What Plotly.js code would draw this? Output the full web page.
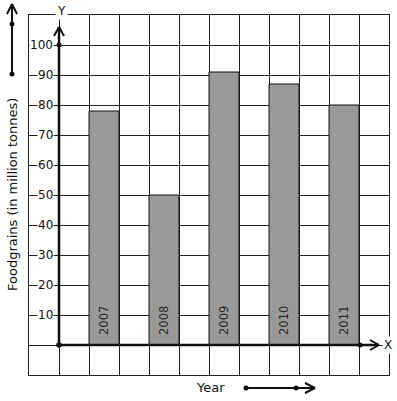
<!DOCTYPE html>
<html>
<head>
<meta charset="utf-8">
<script src="https://cdn.plot.ly/plotly-3.0.1.min.js"></script>
<style>html,body{margin:0;padding:0;background:#fff;}#chart{width:397px;height:401px;}</style>
</head>
<body>
<div id="chart"></div>
<script>
// Data
var years = ['2007', '2008', '2009', '2010', '2011'];
var foodgrains = [78, 50, 91, 87, 80];
var yTickValues = [10, 20, 30, 40, 50, 60, 70, 80, 90, 100];
var yTickLabels = ['10', '20', '30', '40', '50', '60', '70', '80', '90', '100'];

var FONT = 'DejaVu Sans, Verdana, sans-serif';
var W = 397, H = 401;
var L = 29, T = 15, PW = 360, PH = 360;
function px(x) { return (x - L) / PW; }
function py(y) { return (T + PH - y) / PH; }

// bar positions on a unit grid (one column gap between bars)
var barX = years.map(function (_, i) { return 1.5 + 2 * i; });

var trace = {
  type: 'bar',
  x: barX,
  y: foodgrains,
  width: 1,
  marker: { color: '#999999', line: { color: '#111111', width: 1 } },
  hoverinfo: 'skip'
};

var shapes = [];
var ink = '#111111';
function line(x0, y0, x1, y1, w) {
  shapes.push({ type: 'line', xref: 'paper', yref: 'paper', x0: px(x0), y0: py(y0), x1: px(x1), y1: py(y1), line: { color: ink, width: w } });
}
function dot(x, y, r) {
  shapes.push({ type: 'circle', xref: 'paper', yref: 'paper', x0: px(x - r), x1: px(x + r), y0: py(y + r), y1: py(y - r), fillcolor: ink, line: { color: ink, width: 0 } });
}
// y axis with arrow
line(59, 345, 59, 27, 2.5);
line(59, 27, 54, 36, 2); line(59, 27, 64, 36, 2);
dot(59, 45, 2.5); dot(59, 345, 2.8);
// x axis with arrow
line(59, 345, 379, 345, 2.5);
line(379, 345, 370, 340, 2); line(379, 345, 370, 350, 2);
dot(360, 345, 2.5);
// left decorative arrow
line(12, 74, 12, 4, 2);
line(12, 4, 7, 14, 2); line(12, 4, 17, 14, 2);
dot(12, 24, 2.5); dot(12, 74, 2.5);
// bottom decorative arrow
line(246, 388, 315, 388, 2);
line(315, 388, 305, 383, 2); line(315, 388, 305, 393, 2);
dot(246, 388, 2.5); dot(296, 388, 2.5);

var annotations = [];
yTickValues.forEach(function (v, i) {
  annotations.push({ xref: 'paper', yref: 'y', x: px(54), y: v, text: yTickLabels[i], showarrow: false,
    xanchor: 'right', yanchor: 'middle', bgcolor: '#ffffff', borderpad: 0,
    font: { family: FONT, size: 12, color: '#111' } });
});
years.forEach(function (yr, i) {
  annotations.push({ xref: 'x', yref: 'y', x: barX[i], y: 8, text: yr, showarrow: false, textangle: -90,
    xanchor: 'center', yanchor: 'middle', font: { family: FONT, size: 11.5, color: '#2a2a2a' } });
});
annotations.push({ xref: 'paper', yref: 'paper', x: px(61), y: py(11), text: 'Y', showarrow: false,
  xanchor: 'center', yanchor: 'middle', bgcolor: '#ffffff', borderpad: 1, font: { family: FONT, size: 12, color: '#111' } });
annotations.push({ xref: 'paper', yref: 'paper', x: px(388), y: py(345), text: 'X', showarrow: false,
  xanchor: 'center', yanchor: 'middle', bgcolor: '#ffffff', borderpad: 1, font: { family: FONT, size: 12, color: '#111' } });
annotations.push({ xref: 'paper', yref: 'paper', x: px(210), y: py(387), text: 'Year', showarrow: false,
  xanchor: 'center', yanchor: 'middle', font: { family: FONT, size: 13, color: '#111' } });
annotations.push({ xref: 'paper', yref: 'paper', x: px(12), y: py(195), text: 'Foodgrains (in million tonnes)', showarrow: false,
  textangle: -90, xanchor: 'center', yanchor: 'middle', font: { family: FONT, size: 13, color: '#111' } });

var layout = {
  width: W, height: H,
  margin: { l: L, r: W - L - PW, t: T, b: H - T - PH, pad: 0 },
  paper_bgcolor: '#ffffff', plot_bgcolor: '#ffffff',
  showlegend: false,
  xaxis: { range: [-1, 11], tick0: -1, dtick: 1, showgrid: true, gridcolor: '#222', gridwidth: 1,
    showticklabels: false, ticks: '', zeroline: false, showline: true, linecolor: '#222', linewidth: 1, mirror: true, fixedrange: true },
  yaxis: { range: [-10, 110], tick0: -10, dtick: 10, showgrid: true, gridcolor: '#222', gridwidth: 1,
    showticklabels: false, ticks: '', zeroline: false, showline: true, linecolor: '#222', linewidth: 1, mirror: true, fixedrange: true },
  shapes: shapes,
  annotations: annotations,
  font: { family: FONT }
};

Plotly.newPlot('chart', [trace], layout, { displayModeBar: false, staticPlot: true });
</script>
</body>
</html>
